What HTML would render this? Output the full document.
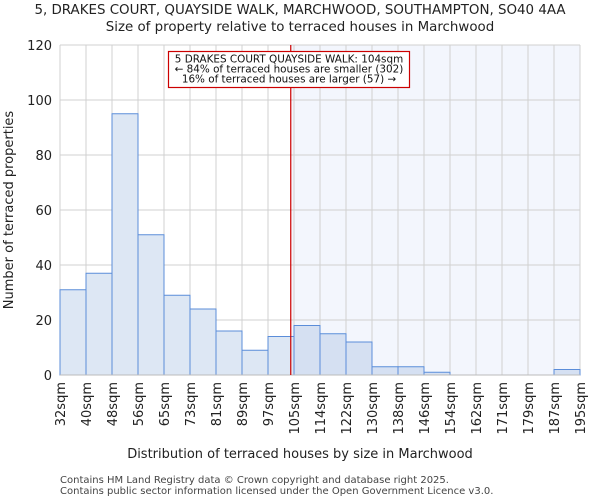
<!DOCTYPE html>
<html><head><meta charset="utf-8"><style>
body{margin:0;background:#fff;font-family:"DejaVu Sans","Liberation Sans",sans-serif;}
svg text{font-family:"DejaVu Sans","Liberation Sans",sans-serif;}
</style></head><body>
<svg id="c" width="600" height="500">
<text x="300" y="14" text-anchor="middle" font-size="13.4" fill="#222">5, DRAKES COURT, QUAYSIDE WALK, MARCHWOOD, SOUTHAMPTON, SO40 4AA</text>
<text x="300" y="31" text-anchor="middle" font-size="13.4" fill="#222">Size of property relative to terraced houses in Marchwood</text>
<g id="plot"></g>
<text x="300" y="458" text-anchor="middle" font-size="13" fill="#222">Distribution of terraced houses by size in Marchwood</text>
<text transform="translate(13,210) rotate(-90)" text-anchor="middle" font-size="13" fill="#222">Number of terraced properties</text>
<text x="60" y="483" font-size="10" fill="#444">Contains HM Land Registry data © Crown copyright and database right 2025.</text>
<text x="60" y="494" font-size="10" fill="#444">Contains public sector information licensed under the Open Government Licence v3.0.</text>
</svg>
<script>
const categories=["32sqm","40sqm","48sqm","56sqm","65sqm","73sqm","81sqm","89sqm","97sqm","105sqm","114sqm","122sqm","130sqm","138sqm","146sqm","154sqm","162sqm","171sqm","179sqm","187sqm","195sqm"];
const counts=[31,37,95,51,29,24,16,9,14,18,15,12,3,3,1,0,0,0,0,2];
const yTicks=[0,20,40,60,80,100,120];
const markerBin=8.875;
const annotation=["5 DRAKES COURT QUAYSIDE WALK: 104sqm","← 84% of terraced houses are smaller (302)","16% of terraced houses are larger (57) →"];

const L=60,R=580,T=45,B=375,yMax=120;
const bw=(R-L)/counts.length;
const xs=i=>L+i*bw;
const ys=v=>B-(v/yMax)*(B-T);
const ns="http://www.w3.org/2000/svg";
const g=document.getElementById('plot');
function mk(tag,attrs,parent){const e=document.createElementNS(ns,tag);for(const k in attrs)e.setAttribute(k,attrs[k]);(parent||g).appendChild(e);return e;}

const mx=xs(markerBin);
let e=mk('rect',{x:mx,y:T,width:R-mx,height:B-T,fill:'#f3f6fd'});


for(let i=0;i<categories.length;i++){
  e=mk('line',{x1:xs(i),x2:xs(i),y1:T,y2:B,stroke:'#d0d0d0','stroke-width':1});
  
  
}
yTicks.forEach(t=>{
  e=mk('line',{x1:L,x2:R,y1:ys(t),y2:ys(t),stroke:'#d0d0d0','stroke-width':1});
  
  
  e=mk('text',{x:L-8,y:ys(t)+5,'text-anchor':'end','font-size':'13',fill:'#222'});
  e.textContent=t;
  
  
});
counts.forEach((v,i)=>{
  const right=i>=Math.floor(markerBin)+1;
  e=mk('rect',{x:xs(i),y:ys(v),width:bw,height:B-ys(v),fill:right?'#d5e0f2':'#dde7f4',stroke:'#5b8dd9','stroke-width':1});
  
  
});
e=mk('line',{x1:L,x2:R,y1:B,y2:B,stroke:'#bbb','stroke-width':1});


categories.forEach((c,i)=>{
  const x=xs(i);
  e=mk('text',{transform:`translate(${x+5},382) rotate(-90)`,'text-anchor':'end','font-size':'13',fill:'#222'});
  e.textContent=c;
  
  
});
e=mk('line',{x1:mx,x2:mx,y1:T,y2:B,stroke:'#cc0000','stroke-width':1.2});


e=mk('rect',{x:168.5,y:51.5,width:241,height:36,fill:'#fff',stroke:'#cc0000','stroke-width':1.2});


annotation.forEach((s,i)=>{
  e=mk('text',{x:289,y:62.5+i*10,'text-anchor':'middle','font-size':'10.4',fill:'#111'});
  e.textContent=s;
  
  
});
</script>
</body></html>
